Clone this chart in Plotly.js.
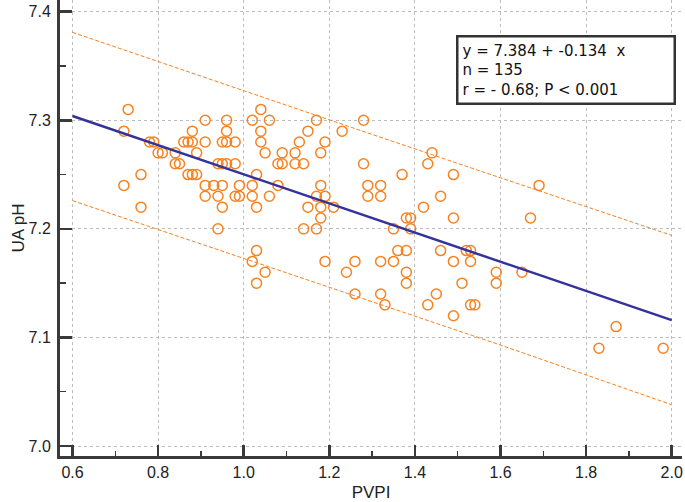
<!DOCTYPE html>
<html>
<head>
<meta charset="utf-8">
<script src="https://cdn.plot.ly/plotly-3.0.1.min.js"></script>
<style>
  html, body { margin: 0; padding: 0; background: #fff; }
  #chart { width: 685px; height: 502px; }
</style>
</head>
<body>
<div id="chart"></div>
<script>
const pvpi = [
  0.73, 1.04,
  0.91, 0.96, 1.02, 1.06, 1.17, 1.28,
  0.72, 0.88, 0.96, 1.04, 1.15, 1.23,
  0.78, 0.79, 0.86, 0.87, 0.88, 0.91, 0.95, 0.96, 0.98, 1.04, 1.13, 1.19,
  0.80, 0.81, 0.84, 0.89, 1.05, 1.09, 1.12, 1.18, 1.44,
  0.84, 0.85, 0.94, 0.95, 0.96, 0.98, 1.08, 1.09, 1.12, 1.14, 1.28, 1.43,
  0.76, 0.87, 0.88, 0.89, 1.03, 1.37, 1.49,
  0.72, 0.91, 0.93, 0.95, 0.99, 1.02, 1.08, 1.18, 1.29, 1.32, 1.69,
  0.91, 0.94, 0.98, 0.99, 1.02, 1.06, 1.17, 1.19, 1.29, 1.32, 1.46,
  0.76, 0.95, 1.03, 1.15, 1.18, 1.21, 1.42,
  1.18, 1.38, 1.39, 1.49, 1.67,
  0.94, 1.14, 1.17, 1.35, 1.39,
  1.03, 1.36, 1.38, 1.46, 1.52, 1.53,
  1.02, 1.19, 1.26, 1.32, 1.35, 1.49, 1.53,
  1.05, 1.24, 1.38, 1.59, 1.65,
  1.03, 1.38, 1.51, 1.59,
  1.26, 1.32, 1.45,
  1.33, 1.43, 1.53, 1.54,
  1.49,
  1.87,
  1.83, 1.98
];
const uaPH = [
  7.31, 7.31,
  7.30, 7.30, 7.30, 7.30, 7.30, 7.30,
  7.29, 7.29, 7.29, 7.29, 7.29, 7.29,
  7.28, 7.28, 7.28, 7.28, 7.28, 7.28, 7.28, 7.28, 7.28, 7.28, 7.28, 7.28,
  7.27, 7.27, 7.27, 7.27, 7.27, 7.27, 7.27, 7.27, 7.27,
  7.26, 7.26, 7.26, 7.26, 7.26, 7.26, 7.26, 7.26, 7.26, 7.26, 7.26, 7.26,
  7.25, 7.25, 7.25, 7.25, 7.25, 7.25, 7.25,
  7.24, 7.24, 7.24, 7.24, 7.24, 7.24, 7.24, 7.24, 7.24, 7.24, 7.24,
  7.23, 7.23, 7.23, 7.23, 7.23, 7.23, 7.23, 7.23, 7.23, 7.23, 7.23,
  7.22, 7.22, 7.22, 7.22, 7.22, 7.22, 7.22,
  7.21, 7.21, 7.21, 7.21, 7.21,
  7.20, 7.20, 7.20, 7.20, 7.20,
  7.18, 7.18, 7.18, 7.18, 7.18, 7.18,
  7.17, 7.17, 7.17, 7.17, 7.17, 7.17, 7.17,
  7.16, 7.16, 7.16, 7.16, 7.16,
  7.15, 7.15, 7.15, 7.15,
  7.14, 7.14, 7.14,
  7.13, 7.13, 7.13, 7.13,
  7.12,
  7.11,
  7.09, 7.09
];

// Regression line end points (y = 7.384 - 0.134 x)
const fitX = [0.6, 2.0];
const fitY = [7.304, 7.116];

// Prediction band
const bandX = [0.6, 1.0, 1.3, 1.6, 2.0];
const bandUpper = [7.381, 7.327, 7.287, 7.247, 7.194];
const bandLower = [7.226, 7.173, 7.133, 7.093, 7.038];

// Axis ticks
const xTicks = [0.6, 0.8, 1.0, 1.2, 1.4, 1.6, 1.8, 2.0];
const xTickText = ["0.6", "0.8", "1.0", "1.2", "1.4", "1.6", "1.8", "2.0"];
const yTicks = [7.0, 7.1, 7.2, 7.3, 7.4];
const yTickText = ["7.0", "7.1", "7.2", "7.3", "7.4"];

const statsText = [
  "y = 7.384 + -0.134\u00a0\u00a0x",
  "n = 135",
  "r = - 0.68; P < 0.001"
];

const orange = "#f7821f";
const font = "Liberation Sans, Arial, sans-serif";
const boxFont = "DejaVu Sans, sans-serif";

const traces = [
  {
    x: bandX, y: bandUpper, type: "scatter", mode: "lines",
    line: { color: orange, width: 1, dash: "4px,2px" }, hoverinfo: "skip"
  },
  {
    x: bandX, y: bandLower, type: "scatter", mode: "lines",
    line: { color: orange, width: 1, dash: "4px,2px" }, hoverinfo: "skip"
  },
  {
    x: pvpi, y: uaPH, type: "scatter", mode: "markers",
    marker: { symbol: "circle-open", size: 10, color: orange, line: { width: 1.5, color: orange } }
  },
  {
    x: fitX, y: fitY, type: "scatter", mode: "lines",
    line: { color: "#333399", width: 2.5 }
  }
];

const layout = {
  width: 685, height: 502,
  margin: { l: 60, r: 3, t: 0, b: 46 },
  paper_bgcolor: "#ffffff",
  plot_bgcolor: "#ffffff",
  showlegend: false,
  font: { family: font, size: 16, color: "#222" },
  xaxis: {
    range: [0.5708, 2.024],
    tickvals: xTicks, ticktext: xTickText,
    ticks: "inside", ticklen: 11, tickwidth: 2.5, tickcolor: "#3a3a3a",
    minor: { dtick: 0.1, tick0: 0.6, ticks: "inside", ticklen: 5, tickwidth: 1.5, tickcolor: "#3a3a3a", showgrid: false },
    showline: true, linecolor: "#3a3a3a", linewidth: 3,
    showgrid: true, gridcolor: "#bdbdbd", gridwidth: 1, griddash: "dot",
    zeroline: false,
    tickfont: { family: font, size: 16, color: "#222" },
    title: { text: "PVPI", font: { family: font, size: 17, color: "#222" }, standoff: 11 }
  },
  yaxis: {
    range: [6.9908, 7.4108],
    tickvals: yTicks, ticktext: yTickText,
    ticks: "inside", ticklen: 12, tickwidth: 2.5, tickcolor: "#3a3a3a",
    minor: { dtick: 0.05, tick0: 7.0, ticks: "inside", ticklen: 6, tickwidth: 1.5, tickcolor: "#3a3a3a", showgrid: false },
    showline: true, linecolor: "#3a3a3a", linewidth: 3,
    showgrid: true, gridcolor: "#bdbdbd", gridwidth: 1, griddash: "dot",
    zeroline: false,
    ticklabelstandoff: 3,
    tickfont: { family: font, size: 16, color: "#222" },
    title: { text: "UA pH", font: { family: font, size: 17, color: "#222" }, standoff: 0 }
  },
  annotations: [
    {
      xref: "paper", yref: "paper",
      x: 0.637, y: 0.923, xanchor: "left", yanchor: "top",
      text: statsText.join("<br>"),
      showarrow: false, align: "left",
      font: { family: boxFont, size: 15, color: "#111" },
      bgcolor: "#ffffff", bordercolor: "#333", borderwidth: 2.5, borderpad: 4,
      width: 207
    }
  ]
};

Plotly.newPlot("chart", traces, layout, { staticPlot: true, displayModeBar: false });
</script>
</body>
</html>
